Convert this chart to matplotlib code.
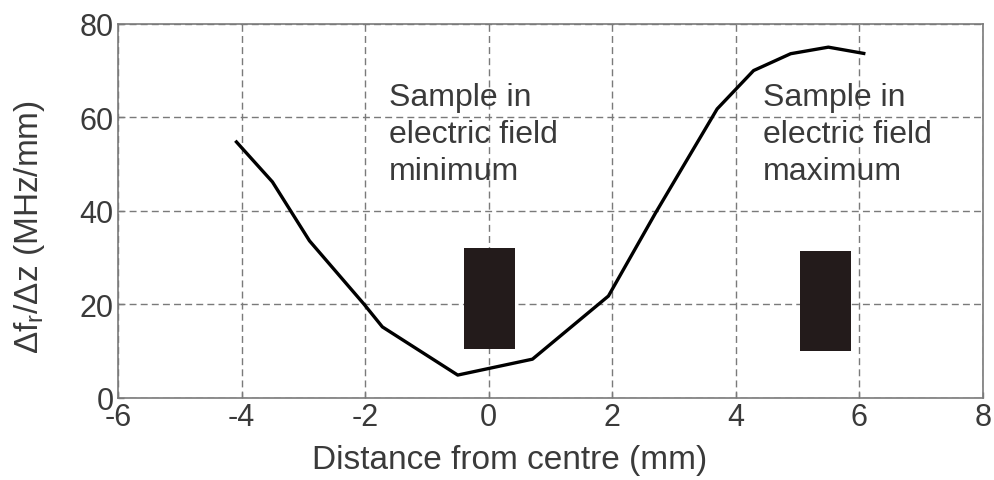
import matplotlib
matplotlib.use("Agg")
import matplotlib.pyplot as plt
from matplotlib.patches import Rectangle

plt.rcParams['font.family'] = ['Liberation Sans', 'DejaVu Sans']
plt.rcParams['mathtext.fontset'] = 'custom'
plt.rcParams['mathtext.rm'] = 'Liberation Sans'
plt.rcParams['axes.unicode_minus'] = False

# Sensitivity of resonant frequency versus sample position
distance = [-4.1, -3.5, -2.9, -2.02, -1.72, -0.5, 0.71, 1.94, 2.7, 3.7, 4.29, 4.89, 5.5, 6.1]
sensitivity = [55.0, 46.2, 33.6, 20.1, 15.2, 4.9, 8.3, 21.8, 39.5, 61.8, 70.0, 73.6, 75.0, 73.6]

# Sample blocks: (x_left, x_right, y_bottom, y_top)
sample_min = (-0.40, 0.43, 10.5, 32.1)
sample_max = (5.04, 5.87, 10.0, 31.5)

x_ticks = [-6, -4, -2, 0, 2, 4, 6, 8]
y_ticks = [0, 20, 40, 60, 80]

text_col = '#3a3a3a'
grid_col = '#7a7a7a'

fig = plt.figure(figsize=(9.94, 4.81), dpi=100)
ax = fig.add_axes([0.1187, 0.1705, 0.870, 0.778])

ax.set_xlim(-6, 8)
ax.set_ylim(0, 80)
ax.set_xticks(x_ticks)
ax.set_yticks(y_ticks)
ax.tick_params(axis='both', direction='in', length=4, width=1, colors=grid_col,
               labelcolor=text_col, labelsize=22, pad=3)
for s in ax.spines.values():
    s.set_color(grid_col)
    s.set_linewidth(1.2)

ax.grid(True, linestyle=(0, (5, 3)), color=grid_col, linewidth=1.0)
ax.set_axisbelow(True)

ax.plot(distance, sensitivity, color='black', linewidth=2.4, solid_capstyle='butt', zorder=3)

for (x0, x1, y0, y1) in (sample_min, sample_max):
    ax.add_patch(Rectangle((x0, y0), x1 - x0, y1 - y0, facecolor='#231b1b',
                           edgecolor='none', zorder=3))

ax.text(-1.62, 67.5, 'Sample in\nelectric field\nminimum', fontsize=23, color=text_col,
        ha='left', va='top', linespacing=1.29, zorder=4)
ax.text(4.44, 67.5, 'Sample in\nelectric field\nmaximum', fontsize=23, color=text_col,
        ha='left', va='top', linespacing=1.29, zorder=4)

ax.set_xlabel('Distance from centre (mm)', fontsize=24, color=text_col)
ax.xaxis.set_label_coords(0.453, -0.123, transform=ax.transAxes)
ax.xaxis.label.set_va('top')
ax.set_ylabel('Δf$_\\mathregular{r}$/Δz (MHz/mm)', fontsize=24, color=text_col)
ax.yaxis.set_label_coords(-0.082, 0.46, transform=ax.transAxes)

fig.savefig('out.png', dpi=100)
